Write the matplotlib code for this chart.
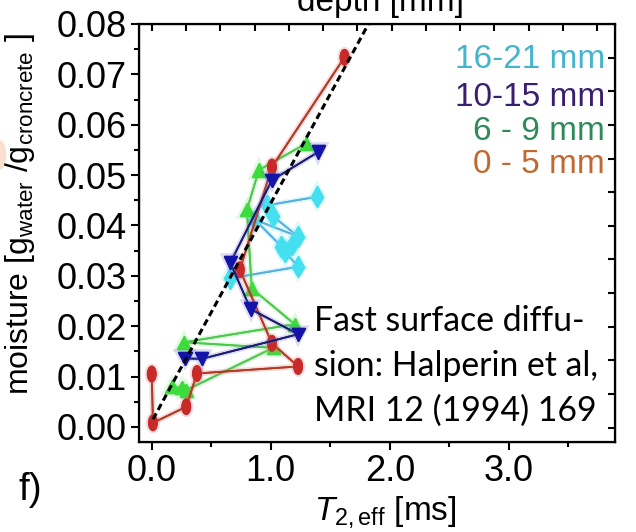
import matplotlib
matplotlib.use("Agg")
import matplotlib.pyplot as plt
import matplotlib.patheffects as pe
from matplotlib.path import Path
from matplotlib.patches import Ellipse
from matplotlib.transforms import Affine2D
import numpy as np

plt.rcParams['font.family'] = ['Liberation Sans', 'DejaVu Sans']
plt.rcParams['mathtext.fontset'] = 'custom'
plt.rcParams['mathtext.rm'] = 'Liberation Sans'
plt.rcParams['mathtext.it'] = 'Liberation Sans:italic'

# T2,eff [ms] and moisture [g/g] per depth slice, in acquisition order
t2_0_5 = [0.00, 0.01, 0.29, 0.38, 1.23, 1.01, 0.74, 1.01, 1.62]
m_0_5 = [0.0105, 0.0008, 0.0040, 0.0106, 0.0120, 0.0166, 0.0312, 0.0516, 0.0734]

t2_6_9 = [1.30, 0.90, 0.80, 0.84, 1.20, 0.27, 1.02, 0.29, 0.17, 0.25]
m_6_9 = [0.0563, 0.0510, 0.0431, 0.0275, 0.0204, 0.0168, 0.0157, 0.0073, 0.0080, 0.0078]

t2_10_15 = [1.40, 1.01, 0.66, 0.83, 1.23, 0.42, 0.28]
m_10_15 = [0.0546, 0.0490, 0.0326, 0.0234, 0.0184, 0.0135, 0.0136]

t2_16_21 = [1.39, 0.97, 1.02, 1.23, 0.87, 1.09, 1.18, 1.12, 1.23, 0.66]
m_16_21 = [0.0457, 0.0440, 0.0418, 0.0378, 0.0411, 0.0358, 0.0361, 0.0348, 0.0318, 0.0295]

# fast surface diffusion trend
fit_t2 = [0.01, 1.86]
fit_m = [0.0015, 0.0817]

labels = ["16-21 mm", "10-15 mm", "6 - 9 mm", "0 - 5 mm"]
label_colors = ["#45b5cc", "#3a1f6e", "#2f8a5a", "#c2672f"]

ellipse = Path.unit_circle().transformed(Affine2D().scale(0.55, 1.0))

fig = plt.figure(figsize=(6.36, 5.32), dpi=100)
ax = fig.add_axes([0.2186, 0.1692, 0.7484, 0.7857])


def glow(c):
    return [pe.withStroke(linewidth=4, foreground=c, alpha=0.25), pe.Normal()]


ax.plot(t2_16_21, m_16_21, color="#5aaee0", lw=1.3, marker="d", ms=10.5,
        mfc="#45e0f0", mec="#45e0f0", path_effects=glow("#7aeaf5"), zorder=2)
ax.plot(t2_6_9, m_6_9, color="#4cc84c", lw=1.3, marker="^", ms=9.5,
        mfc="#3ddc3d", mec="#3ddc3d", path_effects=glow("#8ae88a"), zorder=3)
ax.plot(t2_10_15, m_10_15, color="#1c1c72", lw=1.3, marker="v", ms=9.5,
        mfc="#1414a8", mec="#1414a8", path_effects=glow("#7070d0"), zorder=4)
ax.plot(t2_0_5, m_0_5, color="#b03a22", lw=1.3, marker=ellipse, ms=11,
        mfc="#c82a2a", mec="#c82a2a", path_effects=glow("#e07070"), zorder=3.5)

ax.plot(fit_t2, fit_m, color="black", lw=2.2, ls=(0, (2.2, 1.3)), zorder=5)

ax.set_xlim(-0.107, 3.893)
ax.set_ylim(-0.003, 0.08)
ax.set_xticks([0, 1, 2, 3])
ax.set_xticklabels(["0.0", "1.0", "2.0", "3.0"])
ax.set_xticks(np.arange(0, 3.9, 0.5), minor=True)
ax.set_yticks(np.arange(0, 0.081, 0.01))
ax.set_yticklabels([f"{v:.2f}" for v in np.arange(0, 0.081, 0.01)])
ax.set_yticks(np.arange(0, 0.08, 0.005), minor=True)
ax.tick_params(which="both", direction="out", labelsize=26, width=1.5, pad=3)
ax.tick_params(which="major", length=6)
ax.tick_params(which="minor", length=3.5)
for s in ax.spines.values():
    s.set_linewidth(1.6)

# depth scale on the top and right edges (ticks only)
top = ax.twiny()
top.set_xlim(ax.get_xlim())
top.set_xticks(np.arange(0, 13.5) * 0.288)
top.tick_params(axis="x", direction="in", length=5, width=1.5, labeltop=False)
right = ax.twinx()
right.set_ylim(ax.get_ylim())
right.set_yticks(0.08 - np.arange(1, 13) * 0.00668)
right.tick_params(axis="y", direction="in", length=5, width=1.5, labelright=False)

ax.set_xlabel(r"$T_{\mathrm{2,eff}}$ [ms]", fontsize=24)
ax.xaxis.set_label_coords(0.517, -0.125)
ax.set_ylabel(r"moisture [g$_{\mathrm{water}}$ /g$_{\mathrm{croncrete}}$ ]", fontsize=23)
ax.yaxis.set_label_coords(-0.215, 0.545)

for i, (txt, c) in enumerate(zip(labels, label_colors)):
    ax.text(0.979, [0.914, 0.825, 0.742, 0.663][i], txt, color=c, fontsize=24,
            ha="right", va="center", transform=ax.transAxes)

ax.text(0.368, 0.182, "Fast surface diffu-\nsion: Halperin et al,\nMRI 12 (1994) 169",
        fontsize=24.3, family="Lato", ha="left", va="center", linespacing=1.48,
        transform=ax.transAxes, zorder=6)

fig.text(0.598, 1 - 11 / 532, "depth [mm]", fontsize=24, ha="center", va="baseline")
fig.text(0.048, 0.079, "f)", fontsize=28, ha="center", va="center")
fig.patches.append(Ellipse((0.0, 1 - 155 / 532), 0.02, 0.055, transform=fig.transFigure,
                           color="#f2a27a", alpha=0.35, lw=0))

fig.savefig("out.png", dpi=100)
